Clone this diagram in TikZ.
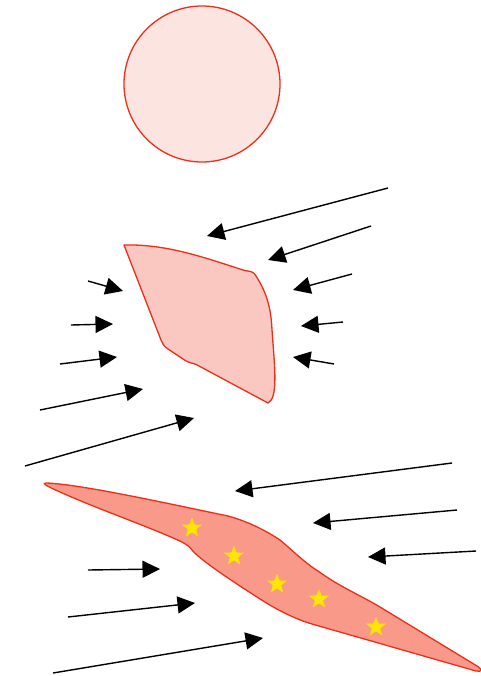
\documentclass[tikz,border=0pt]{standalone}
\usetikzlibrary{arrows.meta,shapes.geometric}
\definecolor{edgered}{HTML}{EE2E17}
\definecolor{circfill}{HTML}{FCE5E0}
\definecolor{midfill}{HTML}{FAC8C1}
\definecolor{lowfill}{HTML}{F8998A}
\definecolor{staryel}{HTML}{FFE600}
\tikzset{
  force/.style={line width=1.4pt,-{Triangle[length=17.5pt,width=17pt]}},
  body/.style={draw=edgered,line width=1.3pt,line join=round},
  staryellow/.style={star,star points=5,star point ratio=2.4,minimum size=21pt,inner sep=0pt,fill=staryel,draw=none}
}
\begin{document}
\begin{tikzpicture}[x=1pt,y=-1pt]
\useasboundingbox (0,0) rectangle (480,676);
% circle
\node[circle,body,fill=circfill,minimum size=156pt,inner sep=0pt] (sphere) at (202,84) {};
% middle body
\path[body,fill=midfill] (124,245) .. controls (165,244) and (200,256) .. (243,270)
  .. controls (250,272) and (252,270) .. (256,276)
  .. controls (265,290) and (271,305) .. (272,330)
  .. controls (275,370) and (278,398) .. (268,403)
  -- (199,366) .. controls (192,362) and (190,364) .. (183,359)
  -- (168,349) .. controls (164,346) .. (161,340) -- cycle;
% bottom body
\path[body,fill=lowfill] (46,483) .. controls (80,484) and (170,504) .. (228,516)
  .. controls (250,522) and (268,532) .. (280,540)
  .. controls (292,550) and (305,563) .. (318,571)
  .. controls (340,587) and (360,595) .. (380,607) -- (477,666)
  .. controls (483,670) and (482,672) .. (476,671)
  -- (312,624) .. controls (295,619) and (275,609) .. (257,597)
  .. controls (235,583) and (200,560) .. (192,550)
  .. controls (189,546) and (187,545) .. (182,542)
  .. controls (150,527) and (100,510) .. (60,492)
  .. controls (44,485) and (42,483) .. (46,483) -- cycle;
% stars
\node[staryellow] (s1) at (192,528) {};
\node[staryellow] (s2) at (234,556) {};
\node[staryellow] (s3) at (277,584) {};
\node[staryellow] (s4) at (319,599) {};
\node[staryellow] (s5) at (376,627) {};
% middle arrow coordinates
\coordinate (m1a) at (388,188); \coordinate (m1b) at (207,236);
\coordinate (m2a) at (371,226); \coordinate (m2b) at (268,260);
\coordinate (m3a) at (352,274); \coordinate (m3b) at (293,290);
\coordinate (m4a) at (343,322); \coordinate (m4b) at (301,326);
\coordinate (m5a) at (334,364); \coordinate (m5b) at (293,357);
\coordinate (m6a) at (88,281);  \coordinate (m6b) at (123,291);
\coordinate (m7a) at (71,325);  \coordinate (m7b) at (113,324);
\coordinate (m8a) at (60,364);  \coordinate (m8b) at (117,357);
\coordinate (m9a) at (40,410);  \coordinate (m9b) at (143,389);
\coordinate (m10a) at (25,466); \coordinate (m10b) at (194,418);
\foreach \i in {1,...,10} {\draw[force] (m\i a) -- (m\i b);}
% bottom arrow coordinates
\coordinate (b1a) at (452,463); \coordinate (b1b) at (235,491);
\coordinate (b2a) at (457,510); \coordinate (b2b) at (313,523);
\coordinate (b3a) at (476,551); \coordinate (b3b) at (368,557);
\coordinate (b4a) at (88,570);  \coordinate (b4b) at (160,569);
\coordinate (b5a) at (68,617);  \coordinate (b5b) at (195,603);
\coordinate (b6a) at (53,673);  \coordinate (b6b) at (263,638);
\foreach \i in {1,...,6} {\draw[force] (b\i a) -- (b\i b);}
\end{tikzpicture}
\end{document}
